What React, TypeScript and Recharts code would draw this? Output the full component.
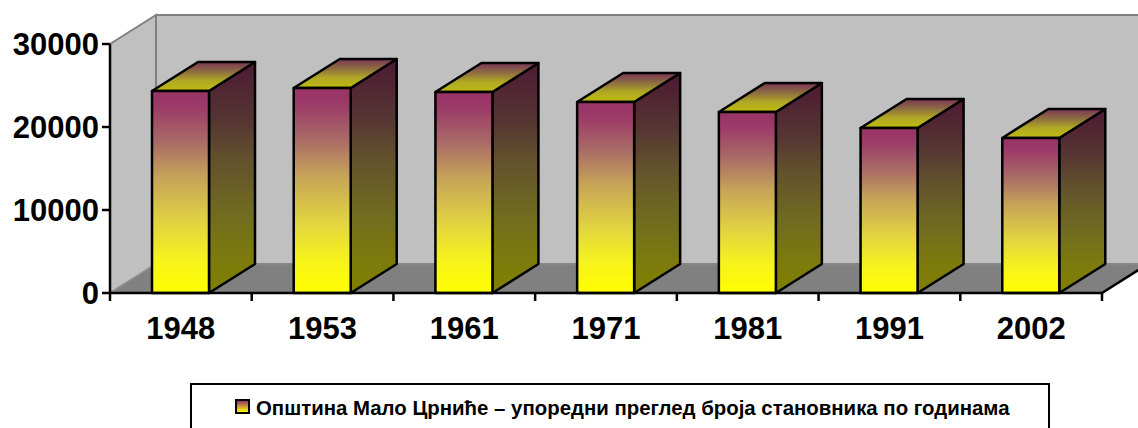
import { BarChart, Bar, XAxis, YAxis, ReferenceArea, Legend } from "recharts"

const years = ["1948", "1953", "1961", "1971", "1981", "1991", "2002"]
const population = [24340, 24700, 24220, 23010, 21810, 19880, 18680]
const yTicks = [0, 10000, 20000, 30000]
const seriesName = "Општина Мало Црниће – упоредни преглед броја становника по годинама"

const data = years.map((year, i) => ({ year, population: population[i] }))

const FONT = "'Liberation Sans', Arial, sans-serif"
// depth of the fake 3d projection
const DX = 46
const DY = 29
const BAND = 992 / years.length

function Walls({ x, y, width, height }: any) {
  const left = x
  const top = y
  const bottom = y + height
  const right = x + width
  return (
    <g>
      <polygon
        points={`${left},${top} ${left + DX},${top - DY} ${left + DX},${bottom - DY} ${left},${bottom}`}
        fill="#c0c0c0"
        stroke="#808080"
        strokeWidth={2}
      />
      <polygon
        points={`${left + DX},${top - DY} ${right + DX},${top - DY} ${right + DX},${bottom - DY} ${left + DX},${bottom - DY}`}
        fill="#c0c0c0"
        stroke="#808080"
        strokeWidth={2}
      />
      <polygon
        points={`${left},${bottom} ${left + DX},${bottom - DY} ${right + DX},${bottom - DY} ${right},${bottom}`}
        fill="#808080"
      />
      <line x1={left} y1={bottom} x2={left + DX} y2={bottom - DY} stroke="#9a9a9a" strokeWidth={1} />
      <line x1={left + DX} y1={bottom - DY} x2={right + DX} y2={bottom - DY} stroke="#8e8e8e" strokeWidth={1} />
      <line x1={right} y1={bottom} x2={right + DX} y2={bottom - DY} stroke="#000" strokeWidth={2.5} />
    </g>
  )
}

function Column({ x, y, width, height }: any) {
  const r = x + width
  const b = y + height
  return (
    <g stroke="#000" strokeWidth={2.5} strokeLinejoin="round">
      <polygon
        points={`${r},${y} ${r + DX},${y - DY} ${r + DX},${b - DY} ${r},${b}`}
        fill="url(#sideFill)"
      />
      <polygon
        points={`${x},${y} ${x + DX},${y - DY} ${r + DX},${y - DY} ${r},${y}`}
        fill="url(#topFill)"
      />
      <rect x={x} y={y} width={width} height={height} fill="url(#frontFill)" />
    </g>
  )
}

function YearTick({ x, y, payload, index }: any) {
  const tickX = x - BAND / 2
  return (
    <g>
      <line x1={tickX} y1={y} x2={tickX} y2={y + 8} stroke="#000" strokeWidth={2.5} />
      {index === years.length - 1 && (
        <line x1={tickX + BAND} y1={y} x2={tickX + BAND} y2={y + 8} stroke="#000" strokeWidth={2.5} />
      )}
      <text x={x} y={y + 46} textAnchor="middle" fontFamily={FONT} fontWeight="bold" fontSize={31} fill="#000">
        {payload.value}
      </text>
    </g>
  )
}

function LegendBox({ payload }: any) {
  const item = payload?.[0]
  return (
    <div
      style={{
        boxSizing: "border-box",
        width: 860,
        height: 60,
        border: "2px solid #000",
        background: "#fff",
        display: "flex",
        alignItems: "flex-start",
        justifyContent: "flex-start",
        paddingLeft: 43,
        paddingTop: 11,
        lineHeight: "24px",
        fontFamily: FONT,
        fontWeight: "bold",
        fontSize: 20.4,
        color: "#000",
        whiteSpace: "nowrap",
      }}
    >
      <span
        style={{
          display: "inline-block",
          boxSizing: "border-box",
          width: 15,
          height: 15,
          marginTop: 3,
          marginRight: 6,
          border: "2px solid #000",
          background: "linear-gradient(#993366, #ffff00)",
        }}
      />
      {item?.value}
    </div>
  )
}

export default function App() {
  return (
    <div style={{ position: "absolute", left: 0, top: 0, width: 1138, height: 428, background: "#fff", overflow: "hidden" }}>
      <BarChart
        width={1138}
        height={428}
        data={data}
        barSize={57}
        margin={{ top: 44, right: 36, bottom: 0, left: 0 }}
      >
        <defs>
          <linearGradient id="frontFill" x1="0" y1="0" x2="0" y2="1">
            <stop offset="0%" stopColor="#993366" />
            <stop offset="8%" stopColor="#9c3a68" />
            <stop offset="25%" stopColor="#a96a66" />
            <stop offset="43%" stopColor="#c6a458" />
            <stop offset="66%" stopColor="#e2d540" />
            <stop offset="84%" stopColor="#f7f31c" />
            <stop offset="100%" stopColor="#ffff00" />
          </linearGradient>
          <linearGradient id="sideFill" x1="0" y1="0" x2="0" y2="1">
            <stop offset="0%" stopColor="#4d1a33" />
            <stop offset="25%" stopColor="#553533" />
            <stop offset="43%" stopColor="#63522c" />
            <stop offset="66%" stopColor="#716b20" />
            <stop offset="84%" stopColor="#7c7a0e" />
            <stop offset="100%" stopColor="#808000" />
          </linearGradient>
          <linearGradient id="topFill" x1="0" y1="0" x2="0" y2="1">
            <stop offset="0%" stopColor="#7a3555" />
            <stop offset="35%" stopColor="#8f7040" />
            <stop offset="65%" stopColor="#b0a825" />
            <stop offset="100%" stopColor="#c0bc10" />
          </linearGradient>
        </defs>
        <ReferenceArea y1={0} y2={30000} shape={<Walls />} />
        <XAxis
          dataKey="year"
          stroke="#000"
          strokeWidth={2.5}
          tickLine={false}
          tickSize={0}
          tickMargin={0}
          interval={0}
          height={135}
          tick={<YearTick />}
        />
        <YAxis
          width={110}
          domain={[0, 30000]}
          ticks={yTicks}
          interval={0}
          stroke="#000"
          strokeWidth={2.5}
          tickSize={8}
          tickMargin={3}
          tick={{ fontFamily: FONT, fontWeight: "bold", fontSize: 31, fill: "#000" }}
        />
        <Bar dataKey="population" name={seriesName} shape={<Column />} isAnimationActive={false} />
        <Legend
          layout="horizontal"
          verticalAlign="middle"
          content={<LegendBox />}
          wrapperStyle={{ position: "absolute", left: 190, top: 383, width: 860, height: 60 }}
        />
      </BarChart>
    </div>
  )
}
